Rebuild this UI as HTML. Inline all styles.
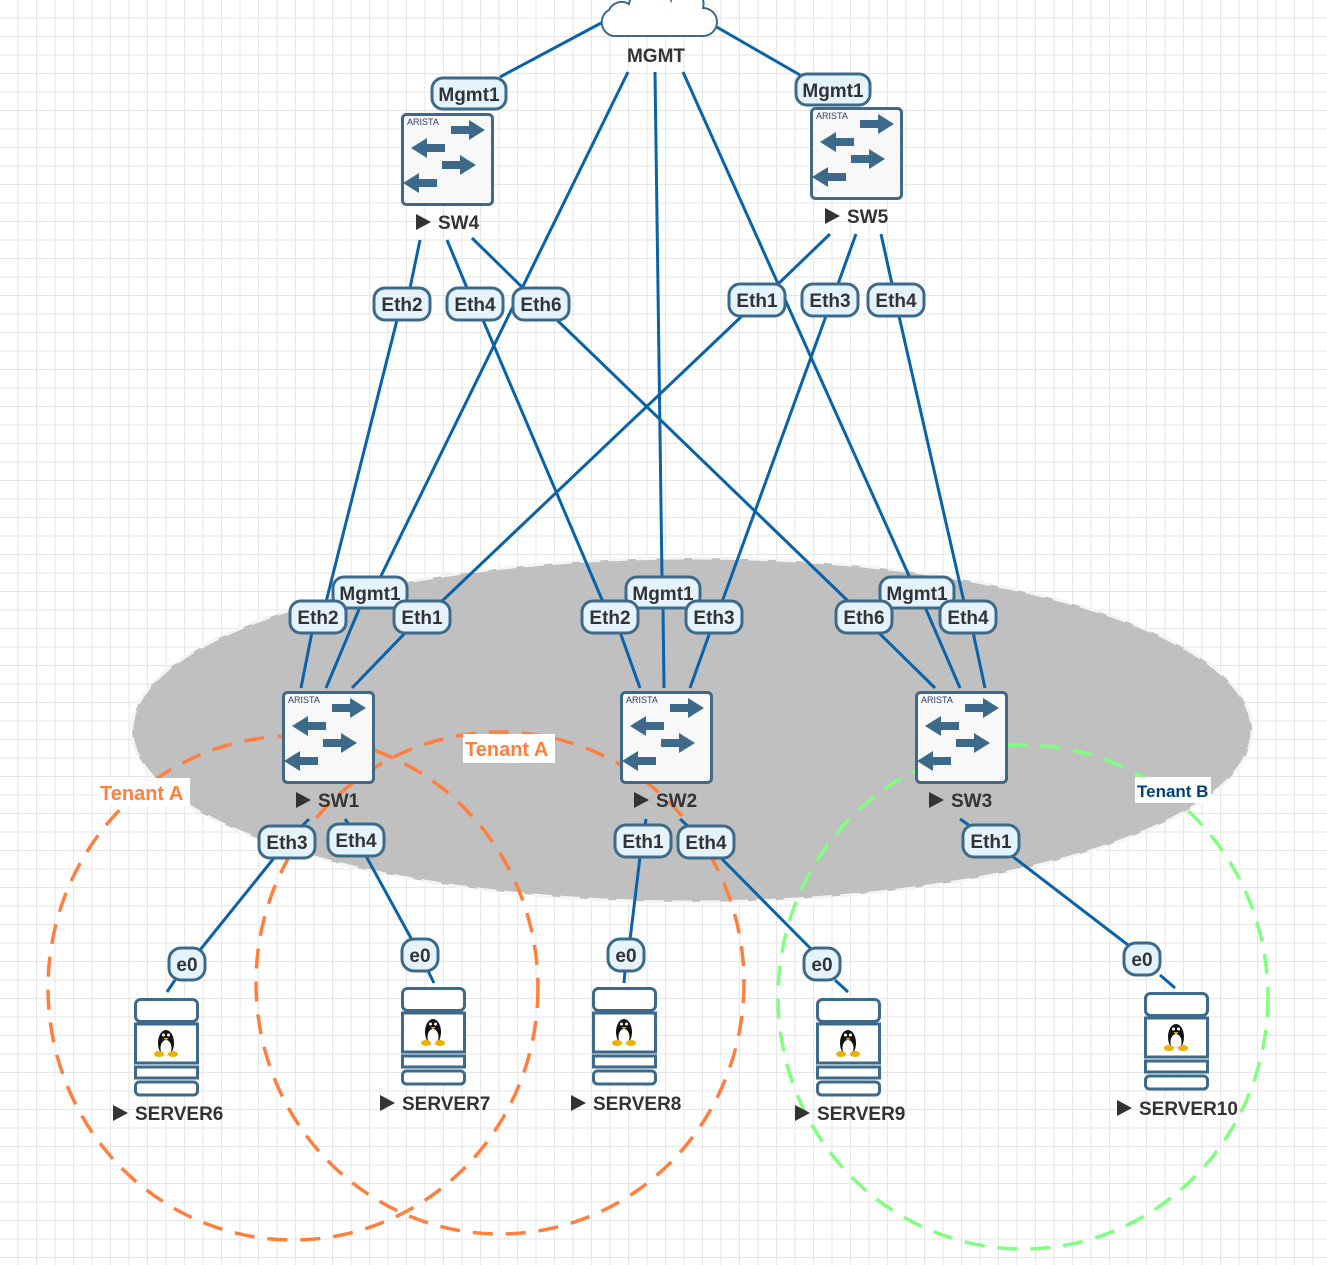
<!DOCTYPE html>
<html><head><meta charset="utf-8"><style>
html,body{margin:0;padding:0;background:#fff}
svg{display:block}
text{font-family:"Liberation Sans",sans-serif;font-weight:bold}
</style></head><body>
<svg width="1327" height="1265" viewBox="0 0 1327 1265" xmlns="http://www.w3.org/2000/svg">
<defs>
<pattern id="grid" width="18.5" height="18.5" patternUnits="userSpaceOnUse">
<path d="M18.5 0V18.5H0" fill="none" stroke="#e6e6e6" stroke-width="2"/>
</pattern>
<g id="sw">
<rect x="1.5" y="1.5" width="90" height="90" rx="4" fill="#f8f8f8" stroke="#3d6a8a" stroke-width="3"/>
<text x="6" y="12" font-size="9" fill="#2a3a6a" style="font-weight:normal">ARISTA</text>
<g fill="#3d6a8a">
<path d="M50 13h18v-6l16 10-16 10v-6h-18z"/>
<path d="M44 31h-18v-6l-16 10 16 10v-6h18z"/>
<path d="M41 48h18v-6l16 10-16 10v-6h-18z"/>
<path d="M36 66h-18v-6l-16 10 16 10v-6h18z"/>
</g>
</g>
<g id="srv" fill="none" stroke="#3d6a8a" stroke-width="3">
<rect x="1.5" y="1.5" width="62" height="22" rx="5" fill="#fff"/>
<rect x="1.5" y="26" width="62" height="39" fill="#fff"/>
<rect x="1.5" y="69" width="62" height="11" fill="#fff"/>
<rect x="1.5" y="84" width="62" height="13" rx="4" fill="#fff"/>
<g stroke="none">
<ellipse cx="32" cy="45" rx="8" ry="13" fill="#111"/>
<ellipse cx="32" cy="50" rx="5.5" ry="8" fill="#fff"/>
<ellipse cx="25" cy="56" rx="5" ry="3" fill="#f0b000"/>
<ellipse cx="39" cy="56" rx="5" ry="3" fill="#f0b000"/>
<circle cx="29.5" cy="37" r="1.5" fill="#fff"/><circle cx="34.5" cy="37" r="1.5" fill="#fff"/>
<path d="M29.5 40h5l-2.5 2.5z" fill="#f0b000"/>
</g>
</g>
</defs>
<rect width="1327" height="1265" fill="url(#grid)"/>

<ellipse cx="692" cy="730" rx="560" ry="172" fill="#c0c0c0" stroke="#f4f4f4" stroke-width="3" stroke-dasharray="20 8"/>

<g stroke="#0a62a8" stroke-width="3" fill="none">
<path d="M603 22L500 77M708 22L800 75"/>
<path d="M628 72L380 578M655 72L662 578M683 72L910 578"/>
<path d="M360 607L326 688M663 607L664 688M925 607L960 688"/>
<path d="M420 240L410 288M447 240L467 288M472 238L525 290"/>
<path d="M397 320L326 602M312 632L301 688"/>
<path d="M483 320L603 602M620 632L640 688"/>
<path d="M557 320L849 602M878 632L935 688"/>
<path d="M830 234L776 286M856 234L838 284M881 234L892 284"/>
<path d="M742 316L440 603M406 632L352 688"/>
<path d="M826 316L722 602M710 632L690 688"/>
<path d="M899 316L964 602M973 632L985 688"/>
<path d="M309 819L300 828M274 858L200 950M175 980L167 992"/>
<path d="M345 819L350 826M366 856L412 940M428 971L434 983"/>
<path d="M646 819L645 826M640 857L630 940M625 971L624 983"/>
<path d="M680 819L690 828M720 857L812 950M835 980L848 992"/>
<path d="M960 819L970 826M1012 856L1128 945M1160 975L1175 988"/>
</g>

<g fill="none" stroke-width="3.5" stroke-dasharray="20 13">
<ellipse cx="293" cy="988" rx="245" ry="252" stroke="#ff7f3f"/>
<ellipse cx="500" cy="983" rx="244" ry="251" stroke="#ff7f3f"/>
<ellipse cx="1023" cy="997" rx="245" ry="252" stroke="#80ff80"/>
</g>
<rect x="98" y="778" width="92" height="28" fill="#fff"/>
<text x="100" y="800" font-size="20" fill="#ff7f3f">Tenant A</text>
<rect x="463" y="734" width="92" height="29" fill="#fff"/>
<text x="465" y="756" font-size="20" fill="#ff7f3f">Tenant A</text>
<rect x="1135" y="777" width="76" height="26" fill="#fff"/>
<text x="1137" y="797" font-size="17" fill="#00407f">Tenant B</text>

<path d="M613 36a14 14 0 0 1 -4-26a14 14 0 0 1 20-6a22 22 0 0 1 42 -4a16 16 0 0 1 32 8a12 12 0 0 1 0 28z" fill="#fff" stroke="#3d6a8a" stroke-width="2"/>
<text x="656" y="62" font-size="19" fill="#333" text-anchor="middle">MGMT</text>

<use href="#sw" x="401" y="113"/>
<use href="#sw" x="810" y="107"/>
<use href="#sw" x="282" y="691"/>
<use href="#sw" x="620" y="691"/>
<use href="#sw" x="915" y="691"/>

<use href="#srv" x="134" y="998"/>
<use href="#srv" x="401" y="987"/>
<use href="#srv" x="592" y="987"/>
<use href="#srv" x="816" y="998"/>
<use href="#srv" x="1144" y="992"/>

<g font-size="19" fill="#333">
<text x="438" y="229">SW4</text><path d="M416 214l15 8-15 8z" fill="#333"/>
<text x="847" y="223">SW5</text><path d="M825 208l15 8-15 8z" fill="#333"/>
<text x="318" y="807">SW1</text><path d="M296 792l15 8-15 8z" fill="#333"/>
<text x="656" y="807">SW2</text><path d="M634 792l15 8-15 8z" fill="#333"/>
<text x="951" y="807">SW3</text><path d="M929 792l15 8-15 8z" fill="#333"/>
<text x="135" y="1120">SERVER6</text><path d="M113 1105l15 8-15 8z" fill="#333"/>
<text x="402" y="1110">SERVER7</text><path d="M380 1095l15 8-15 8z" fill="#333"/>
<text x="593" y="1110">SERVER8</text><path d="M571 1095l15 8-15 8z" fill="#333"/>
<text x="817" y="1120">SERVER9</text><path d="M795 1105l15 8-15 8z" fill="#333"/>
<text x="1139" y="1115">SERVER10</text><path d="M1117 1100l15 8-15 8z" fill="#333"/>
</g>

<g stroke="#3d6a8a" stroke-width="3" fill="#e5f3ff">
<rect x="432" y="78" width="74" height="31" rx="11"/>
<rect x="796" y="74" width="74" height="31" rx="11"/>
<rect x="374" y="288" width="56" height="32" rx="11"/>
<rect x="447" y="288" width="56" height="32" rx="11"/>
<rect x="513" y="288" width="56" height="32" rx="11"/>
<rect x="729" y="284" width="56" height="32" rx="11"/>
<rect x="802" y="284" width="56" height="32" rx="11"/>
<rect x="868" y="284" width="56" height="32" rx="11"/>
<rect x="333" y="577" width="74" height="31" rx="11"/>
<rect x="626" y="577" width="74" height="31" rx="11"/>
<rect x="880" y="577" width="74" height="31" rx="11"/>
<rect x="290" y="601" width="56" height="32" rx="11"/>
<rect x="394" y="601" width="56" height="32" rx="11"/>
<rect x="582" y="601" width="56" height="32" rx="11"/>
<rect x="686" y="601" width="56" height="32" rx="11"/>
<rect x="836" y="601" width="56" height="32" rx="11"/>
<rect x="940" y="601" width="56" height="32" rx="11"/>
<rect x="259" y="826" width="56" height="32" rx="11"/>
<rect x="328" y="824" width="56" height="32" rx="11"/>
<rect x="615" y="825" width="56" height="32" rx="11"/>
<rect x="678" y="826" width="56" height="32" rx="11"/>
<rect x="963" y="825" width="56" height="32" rx="11"/>
<rect x="169" y="948" width="36" height="32" rx="12"/>
<rect x="402" y="939" width="36" height="32" rx="12"/>
<rect x="608" y="939" width="36" height="32" rx="12"/>
<rect x="804" y="948" width="36" height="32" rx="12"/>
<rect x="1124" y="943" width="36" height="32" rx="12"/>
</g>
<g font-size="19" fill="#333" text-anchor="middle">
<text x="469" y="101">Mgmt1</text>
<text x="833" y="97">Mgmt1</text>
<text x="402" y="311">Eth2</text>
<text x="475" y="311">Eth4</text>
<text x="541" y="311">Eth6</text>
<text x="757" y="307">Eth1</text>
<text x="830" y="307">Eth3</text>
<text x="896" y="307">Eth4</text>
<text x="370" y="600">Mgmt1</text>
<text x="663" y="600">Mgmt1</text>
<text x="917" y="600">Mgmt1</text>
<text x="318" y="624">Eth2</text>
<text x="422" y="624">Eth1</text>
<text x="610" y="624">Eth2</text>
<text x="714" y="624">Eth3</text>
<text x="864" y="624">Eth6</text>
<text x="968" y="624">Eth4</text>
<text x="287" y="849">Eth3</text>
<text x="356" y="847">Eth4</text>
<text x="643" y="848">Eth1</text>
<text x="706" y="849">Eth4</text>
<text x="991" y="848">Eth1</text>
<text x="187" y="971">e0</text>
<text x="420" y="962">e0</text>
<text x="626" y="962">e0</text>
<text x="822" y="971">e0</text>
<text x="1142" y="966">e0</text>
</g>
</svg>
</body></html>
